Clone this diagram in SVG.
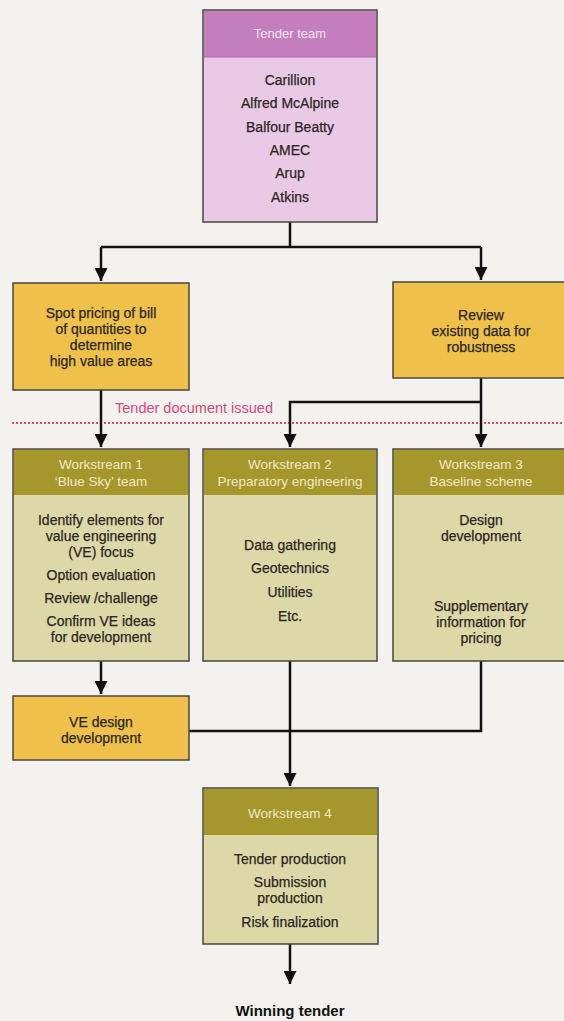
<svg xmlns="http://www.w3.org/2000/svg" width="564" height="1021" viewBox="0 0 564 1021">
<style>
.bg{fill:#f3f2ef}
.box{stroke:#4a4640;stroke-width:1.5}
.pinkH{fill:#c47dbd}
.pinkB{fill:#e9c9e5}
.yel{fill:#efc04a}
.olH{fill:#a6972c}
.olB{fill:#dcd8a8}
text{font-family:"Liberation Sans",Arial,sans-serif;font-size:14px;fill:#2b2722;text-anchor:middle;stroke:#2b2722;stroke-width:0.25}
.hd{fill:#f1e8c8;stroke:none;font-size:13.5px}
.hdp{fill:#f6e4f3;stroke:none;font-size:13px}
.ln{fill:none;stroke:#111;stroke-width:2.5}
.note{fill:#e0457e;stroke:none;font-size:14.5px;text-anchor:start}
.win{font-weight:bold;fill:#111;stroke:none;font-size:15px}
</style>
<defs>
<marker id="ah" viewBox="0 0 10 10" refX="10" refY="5" markerWidth="14" markerHeight="13" markerUnits="userSpaceOnUse" orient="auto">
<path d="M0,0 L10,5 L0,10 Z" fill="#111"/>
</marker>
</defs>
<rect class="bg" x="0" y="0" width="564" height="1021"/>
<line x1="12" y1="423" x2="564" y2="423" stroke="#e0457e" stroke-width="2" stroke-dasharray="2,2"/>
<text class="note" x="115" y="413">Tender document issued</text>
<g id="connectors">
<path class="ln" d="M290 222 V247"/>
<path class="ln" d="M101 247 H481"/>
<path class="ln" d="M101 247 V281" marker-end="url(#ah)"/>
<path class="ln" d="M481 247 V280" marker-end="url(#ah)"/>
<path class="ln" d="M101 390 V447" marker-end="url(#ah)"/>
<path class="ln" d="M481 378 V447" marker-end="url(#ah)"/>
<path class="ln" d="M481 402 H290 V447" marker-end="url(#ah)"/>
<path class="ln" d="M101 661 V694" marker-end="url(#ah)"/>
<path class="ln" d="M290 661 V786" marker-end="url(#ah)"/>
<path class="ln" d="M189 731 H481 V661"/>
<path class="ln" d="M290 944 V984" marker-end="url(#ah)"/>
</g>
<g id="tender-team">
<rect class="pinkB box" x="203" y="10" width="174" height="212"/>
<rect class="pinkH" x="204" y="11" width="172" height="46"/>
<line x1="204" y1="57" x2="376" y2="57" stroke="#b36aab" stroke-width="1"/>
<text class="hdp" x="290" y="38">Tender team</text>
<text x="290" y="85">Carillion</text>
<text x="290" y="108">Alfred McAlpine</text>
<text x="290" y="132">Balfour Beatty</text>
<text x="290" y="155">AMEC</text>
<text x="290" y="178">Arup</text>
<text x="290" y="202">Atkins</text>
</g>
<g id="spot-pricing">
<rect class="yel box" x="13" y="283" width="176" height="107"/>
<text x="101" y="318">Spot pricing of bill</text>
<text x="101" y="334">of quantities to</text>
<text x="101" y="350">determine</text>
<text x="101" y="366">high value areas</text>
</g>
<g id="review">
<rect class="yel box" x="393" y="282" width="175" height="96"/>
<text x="481" y="320">Review</text>
<text x="481" y="336">existing data for</text>
<text x="481" y="352">robustness</text>
</g>
<g id="ws1">
<rect class="olB box" x="13" y="449" width="176" height="212"/>
<rect class="olH" x="14" y="450" width="174" height="45"/>
<text class="hd" x="101" y="469">Workstream 1</text>
<text class="hd" x="101" y="486">‘Blue Sky’ team</text>
<text x="101" y="525">Identify elements for</text>
<text x="101" y="541">value engineering</text>
<text x="101" y="557">(VE) focus</text>
<text x="101" y="580">Option evaluation</text>
<text x="101" y="603">Review /challenge</text>
<text x="101" y="626">Confirm VE ideas</text>
<text x="101" y="642">for development</text>
</g>
<g id="ws2">
<rect class="olB box" x="203" y="449" width="174" height="212"/>
<rect class="olH" x="204" y="450" width="172" height="45"/>
<text class="hd" x="290" y="469">Workstream 2</text>
<text class="hd" x="290" y="486">Preparatory engineering</text>
<text x="290" y="550">Data gathering</text>
<text x="290" y="573">Geotechnics</text>
<text x="290" y="597">Utilities</text>
<text x="290" y="621">Etc.</text>
</g>
<g id="ws3">
<rect class="olB box" x="393" y="449" width="175" height="212"/>
<rect class="olH" x="394" y="450" width="174" height="45"/>
<text class="hd" x="481" y="469">Workstream 3</text>
<text class="hd" x="481" y="486">Baseline scheme</text>
<text x="481" y="525">Design</text>
<text x="481" y="541">development</text>
<text x="481" y="611">Supplementary</text>
<text x="481" y="627">information for</text>
<text x="481" y="643">pricing</text>
</g>
<g id="ve-design">
<rect class="yel box" x="13" y="696" width="176" height="64"/>
<text x="101" y="727">VE design</text>
<text x="101" y="743">development</text>
</g>
<g id="ws4">
<rect class="olB box" x="203" y="788" width="175" height="156"/>
<rect class="olH" x="204" y="789" width="173" height="46"/>
<text class="hd" x="290" y="818">Workstream 4</text>
<text x="290" y="864">Tender production</text>
<text x="290" y="887">Submission</text>
<text x="290" y="903">production</text>
<text x="290" y="927">Risk finalization</text>
</g>
<g id="winning">
<text class="win" x="290" y="1016">Winning tender</text>
</g>
</svg>
